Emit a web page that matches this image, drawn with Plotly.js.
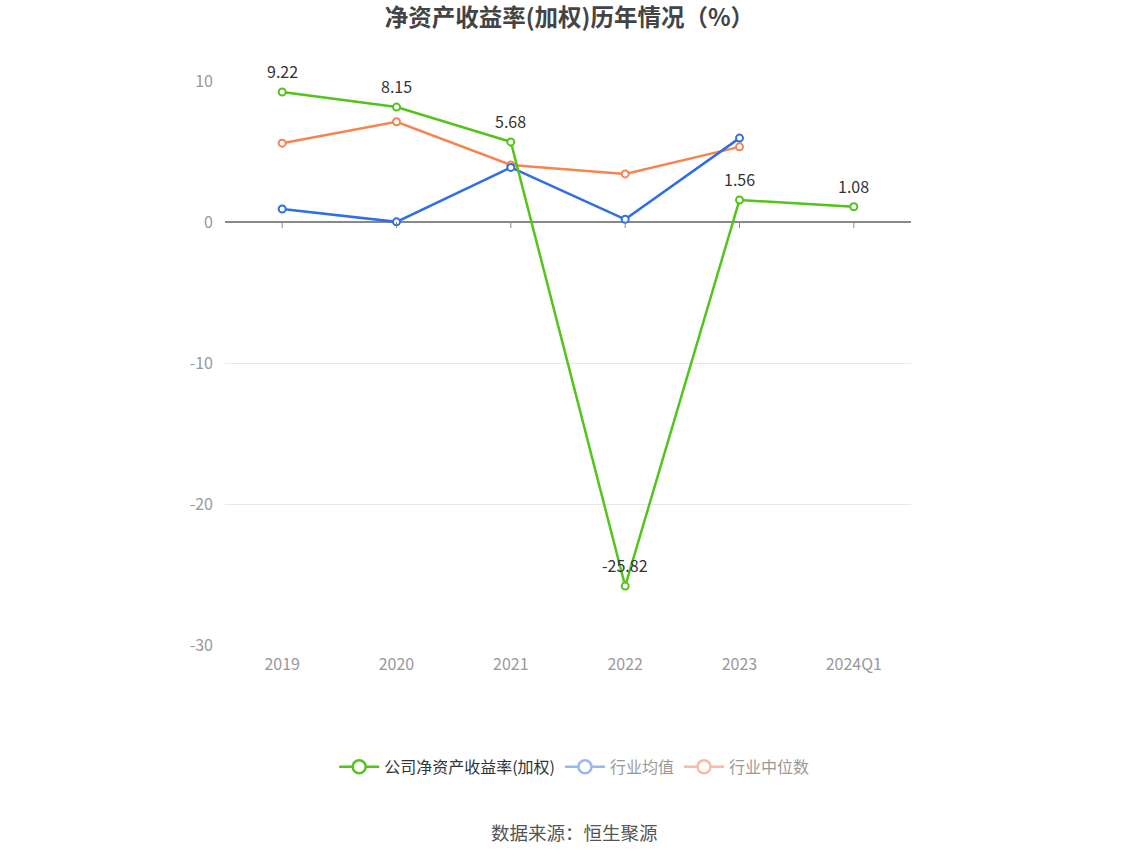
<!DOCTYPE html>
<html>
<head>
<meta charset="utf-8">
<script src="https://cdn.plot.ly/plotly-3.0.1.min.js"></script>
<style>html,body{margin:0;padding:0;background:#fff;}#chart{width:1148px;height:859px;}</style>
</head>
<body>
<div id="chart"></div>
<script>
const categories = ['2019', '2020', '2021', '2022', '2023', '2024Q1'];
const companyROE = [9.22, 8.15, 5.68, -25.82, 1.56, 1.08];
const industryAvg = [0.92, 0.01, 3.87, 0.19, 5.95, null];
const industryMedian = [5.59, 7.11, 4.05, 3.41, 5.33, null];
const yTicks = [10, 0, -10, -20, -30];
const seriesNames = ['公司净资产收益率(加权)', '行业均值', '行业中位数'];

const FONT = '"Noto Sans CJK SC", "Noto Sans", sans-serif';
const green = '#52c41a', blue = '#2f6fe3', orange = '#f7844f';
const blueLight = '#98b7f2', orangeLight = '#fbbb9e';

function series(y, color) {
  return {
    type: 'scatter', mode: 'lines+markers',
    x: categories, y: y, showlegend: false,
    line: {color: color, width: 2.5},
    marker: {symbol: 'circle', size: 7, color: '#fff', line: {color: color, width: 2}},
    cliponaxis: false, hoverinfo: 'x+y'
  };
}
function legendItem(name, color, textColor) {
  return {
    type: 'scatter', mode: 'lines+markers', x: [null], y: [null],
    name: '<span style="color:' + textColor + '">' + name + '</span>',
    line: {color: color, width: 2.5},
    marker: {symbol: 'circle', size: 13, color: '#fff', line: {color: color, width: 2.5}}
  };
}

const traces = [
  series(industryMedian, orange),
  series(industryAvg, blue),
  series(companyROE, green),
  legendItem(seriesNames[0], green, '#333'),
  legendItem(seriesNames[1], blueLight, '#999'),
  legendItem(seriesNames[2], orangeLight, '#999')
];

const tickShapes = categories.map((c, i) => ({
  type: 'line', xref: 'x', yref: 'y', ysizemode: 'pixel', yanchor: 0,
  x0: i, x1: i, y0: 0, y1: -6, line: {color: '#888', width: 1}
}));

const valueLabels = categories.map((c, i) => ({
  x: i, y: companyROE[i], xref: 'x', yref: 'y', text: companyROE[i].toFixed(2),
  showarrow: false, yshift: 21, xanchor: 'center', yanchor: 'middle',
  font: {size: 16, color: '#333', family: FONT}
}));

const layout = {
  width: 1148, height: 859,
  margin: {l: 225, r: 237, t: 81, b: 214},
  paper_bgcolor: '#fff', plot_bgcolor: '#fff',
  font: {family: FONT, color: '#999', size: 14},
  title: {text: '<b>净资产收益率(加权)历年情况（%）</b>', x: 0.496, xanchor: 'center', y: 0.979, yanchor: 'middle',
          font: {size: 23.5, color: '#444', family: FONT}},
  xaxis: {type: 'category', categoryorder: 'array', categoryarray: categories, range: [-0.5, 5.5],
          showgrid: false, zeroline: false, showline: false, ticks: '', ticklabelstandoff: 8,
          tickfont: {size: 16, color: '#999'}, fixedrange: true},
  yaxis: {range: [-30, 10], tickvals: yTicks, ticktext: yTicks.map(String),
          showgrid: true, gridcolor: '#e5e8f0', gridwidth: 1,
          zeroline: true, zerolinecolor: '#888', zerolinewidth: 1.5,
          showline: false, ticks: '', ticklabelstandoff: 11,
          tickfont: {size: 16, color: '#999'}, fixedrange: true},
  showlegend: true,
  legend: {orientation: 'h', x: 0.509, xanchor: 'center', y: -0.216, yanchor: 'middle',
           font: {size: 16, color: '#333', family: FONT}, itemwidth: 40, tracegroupgap: 0},
  shapes: tickShapes,
  annotations: valueLabels.concat([{text: '数据来源：恒生聚源', xref: 'paper', yref: 'paper', x: 0.509, y: -0.332,
                 xanchor: 'center', yanchor: 'middle', showarrow: false,
                 font: {size: 18.5, color: '#555', family: FONT}}])
};

Plotly.newPlot('chart', traces, layout, {displayModeBar: false, staticPlot: true});
</script>
</body>
</html>
